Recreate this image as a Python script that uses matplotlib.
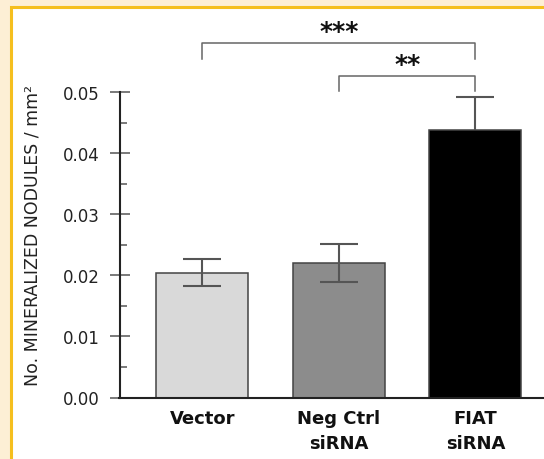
import matplotlib
matplotlib.use("Agg")
import matplotlib.pyplot as plt
from matplotlib.patches import Rectangle
from matplotlib.ticker import MultipleLocator, FormatStrFormatter

# ---- data ----
categories = ["Vector", "Neg Ctrl\nsiRNA", "FIAT\nsiRNA"]
values = [0.0204, 0.0220, 0.0437]
errors = [0.0022, 0.0031, 0.0055]
bar_colors = ["#d9d9d9", "#8c8c8c", "#000000"]
sig_pairs = [(0, 2, "***"), (1, 2, "**")]

W, H = 544, 460
fig = plt.figure(figsize=(W / 100, H / 100), dpi=100)
fig.patch.set_facecolor("#fdefd5")
# white panel with gold border
fig.add_artist(Rectangle((10.5 / W, -0.1), 1.2, (H - 7.5) / H + 0.1,
                         transform=fig.transFigure, facecolor="white",
                         edgecolor="#f5bf1e", lw=2.2, zorder=0))

ax_left, ax_right, ax_bot, ax_top = 119.5, 544, 398.5, 93
ax = fig.add_axes([ax_left / W, (H - ax_bot) / H, (ax_right - ax_left) / W,
                   (ax_bot - ax_top) / H])
ax.set_facecolor("none")

x = list(range(len(categories)))
ax.bar(x, values, width=0.674, color=bar_colors, edgecolor="#444444",
       linewidth=1.1, zorder=2)

# error bars (FIAT shows only upper part)
ax.errorbar(x[:2], values[:2], yerr=errors[:2], fmt="none", ecolor="#555555",
            elinewidth=1.5, capsize=14, capthick=1.5, zorder=3)
eb = ax.errorbar([x[2]], [values[2]], yerr=[[0], [errors[2]]], fmt="none",
                 ecolor="#555555", elinewidth=1.5, capsize=14, capthick=1.5,
                 zorder=3)
for cl in eb[1]:
    if abs(cl.get_ydata()[0] - values[2]) < 1e-9:
        cl.set_visible(False)

ax.set_xlim(-0.608, 2.502)
ax.set_ylim(0, 0.05)

for s in ["top", "right"]:
    ax.spines[s].set_visible(False)
for s in ["left", "bottom"]:
    ax.spines[s].set_linewidth(1.5)
    ax.spines[s].set_color("#222222")

ax.yaxis.set_major_locator(MultipleLocator(0.01))
ax.yaxis.set_minor_locator(MultipleLocator(0.005))
ax.yaxis.set_major_formatter(FormatStrFormatter("%.2f"))
ax.tick_params(axis="y", which="major", direction="inout", length=14.4,
               width=1.1, color="#555555", pad=6.8, labelsize=12,
               labelcolor="#222222")
ax.tick_params(axis="y", which="minor", direction="in", length=5,
               width=1.1, color="#555555")

ax.set_xticks(x)
ax.set_xticklabels(categories, fontweight="bold", fontsize=13,
                   linespacing=1.5, color="#111111")
ax.tick_params(axis="x", length=0, pad=8)

fig.text(32.5 / W, 1 - 235 / H, "No. MINERALIZED NODULES / mm²",
         rotation=90, ha="center", va="center", fontsize=12.5,
         color="#222222")

# significance brackets
bracket_y = {"***": (0.0581, 0.05545), "**": (0.05262, 0.05016)}
for a, b, lab in sig_pairs:
    top, bot = bracket_y[lab]
    ax.plot([x[a], x[a], x[b], x[b]], [bot, top, top, bot], color="#666666",
            lw=1.1, clip_on=False, zorder=4)
    ax.annotate(lab, xy=((x[a] + x[b]) / 2, top), xytext=(0, 3.5),
                textcoords="offset points", ha="center", va="baseline",
                fontsize=18, fontweight="bold", color="#111111",
                annotation_clip=False)

fig.savefig("out.png", dpi=100, facecolor=fig.get_facecolor())
